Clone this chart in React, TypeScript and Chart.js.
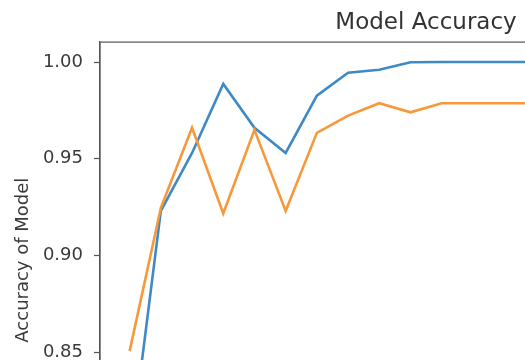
import React, { useEffect, useRef } from "react";
import { Chart, registerables } from "chart.js";

Chart.register(...registerables);

const epochs = [0, 1, 2, 3, 4, 5, 6, 7, 8, 9, 10, 11, 12, 13, 14, 15, 16, 17, 18, 19];
const trainAcc = [0.795, 0.923, 0.953, 0.9887, 0.966, 0.953, 0.9826, 0.9945, 0.996, 0.9999, 1.0, 1.0, 1.0, 1.0, 1.0, 1.0, 1.0, 1.0, 1.0, 1.0];
const valAcc = [0.8505, 0.9246, 0.966, 0.9217, 0.9649, 0.923, 0.9634, 0.9723, 0.9787, 0.974, 0.9787, 0.9787, 0.9787, 0.9787, 0.9787, 0.9787, 0.9787, 0.9787, 0.9787, 0.9787];
const yTicks = [0.8, 0.85, 0.9, 0.95, 1.0];

const frame = {
  id: "frame",
  afterDatasetsDraw(chart: any) {
    const { ctx, chartArea } = chart;
    ctx.save();
    ctx.strokeStyle = "#555";
    ctx.lineWidth = 1.2;
    ctx.strokeRect(chartArea.left, chartArea.top, chartArea.right - chartArea.left, chartArea.bottom - chartArea.top);
    ctx.restore();
  },
};

export default function App() {
  const ref = useRef<HTMLCanvasElement | null>(null);
  useEffect(() => {
    if (!ref.current) return;
    const chart = new Chart(ref.current, {
      type: "line",
      data: {
        datasets: [
          {
            label: "train",
            data: epochs.map((e, i) => ({ x: e, y: trainAcc[i] })),
            borderColor: "#3f8ac4",
            borderWidth: 2.6,
            pointRadius: 0,
            tension: 0,
            order: 1,
          },
          {
            label: "val",
            data: epochs.map((e, i) => ({ x: e, y: valAcc[i] })),
            borderColor: "#f7983a",
            borderWidth: 2.6,
            pointRadius: 0,
            tension: 0,
            order: 0,
          },
        ],
      },
      options: {
        animation: false,
        responsive: false,
        devicePixelRatio: 1,
        layout: { padding: { left: 0, right: 0, top: 0, bottom: 3 } },
        plugins: {
          legend: { display: false },
          tooltip: { enabled: false },
          title: {
            display: true,
            text: "Model Accuracy",
            color: "#333",
            font: { family: "DejaVu Sans", size: 23, weight: "normal" },
            padding: { top: 9.5, bottom: 5 },
          },
        },
        scales: {
          x: {
            type: "linear",
            display: false,
            min: -0.95,
            max: 23.15,
          },
          y: {
            type: "linear",
            min: 0.7848,
            max: 1.0103,
            afterFit: (s: any) => {
              s.width = 100;
            },
            afterBuildTicks: (s: any) => {
              s.ticks = yTicks.map((v) => ({ value: v }));
            },
            grid: {
              drawOnChartArea: false,
              drawTicks: true,
              tickLength: 6,
              tickColor: "#555",
              tickWidth: 1.2,
            },
            border: { display: true, color: "#555", width: 1.2 },
            ticks: {
              color: "#3a3a3a",
              padding: 11,
              font: { family: "DejaVu Sans", size: 18 },
              callback: (v: any) => Number(v).toFixed(2),
            },
            title: {
              display: true,
              text: "Accuracy of Model",
              color: "#3a3a3a",
              font: { family: "DejaVu Sans", size: 18 },
              padding: { top: 12.5, bottom: 0 },
            },
          },
        },
      },
      plugins: [frame],
    });
    return () => chart.destroy();
  }, []);
  return (
    <div style={{ position: "fixed", left: 0, top: 0, width: 525, height: 360, overflow: "hidden", background: "#fff" }}>
      <canvas ref={ref} width={852} height={500} style={{ width: 852, height: 500, display: "block" }} />
    </div>
  );
}
